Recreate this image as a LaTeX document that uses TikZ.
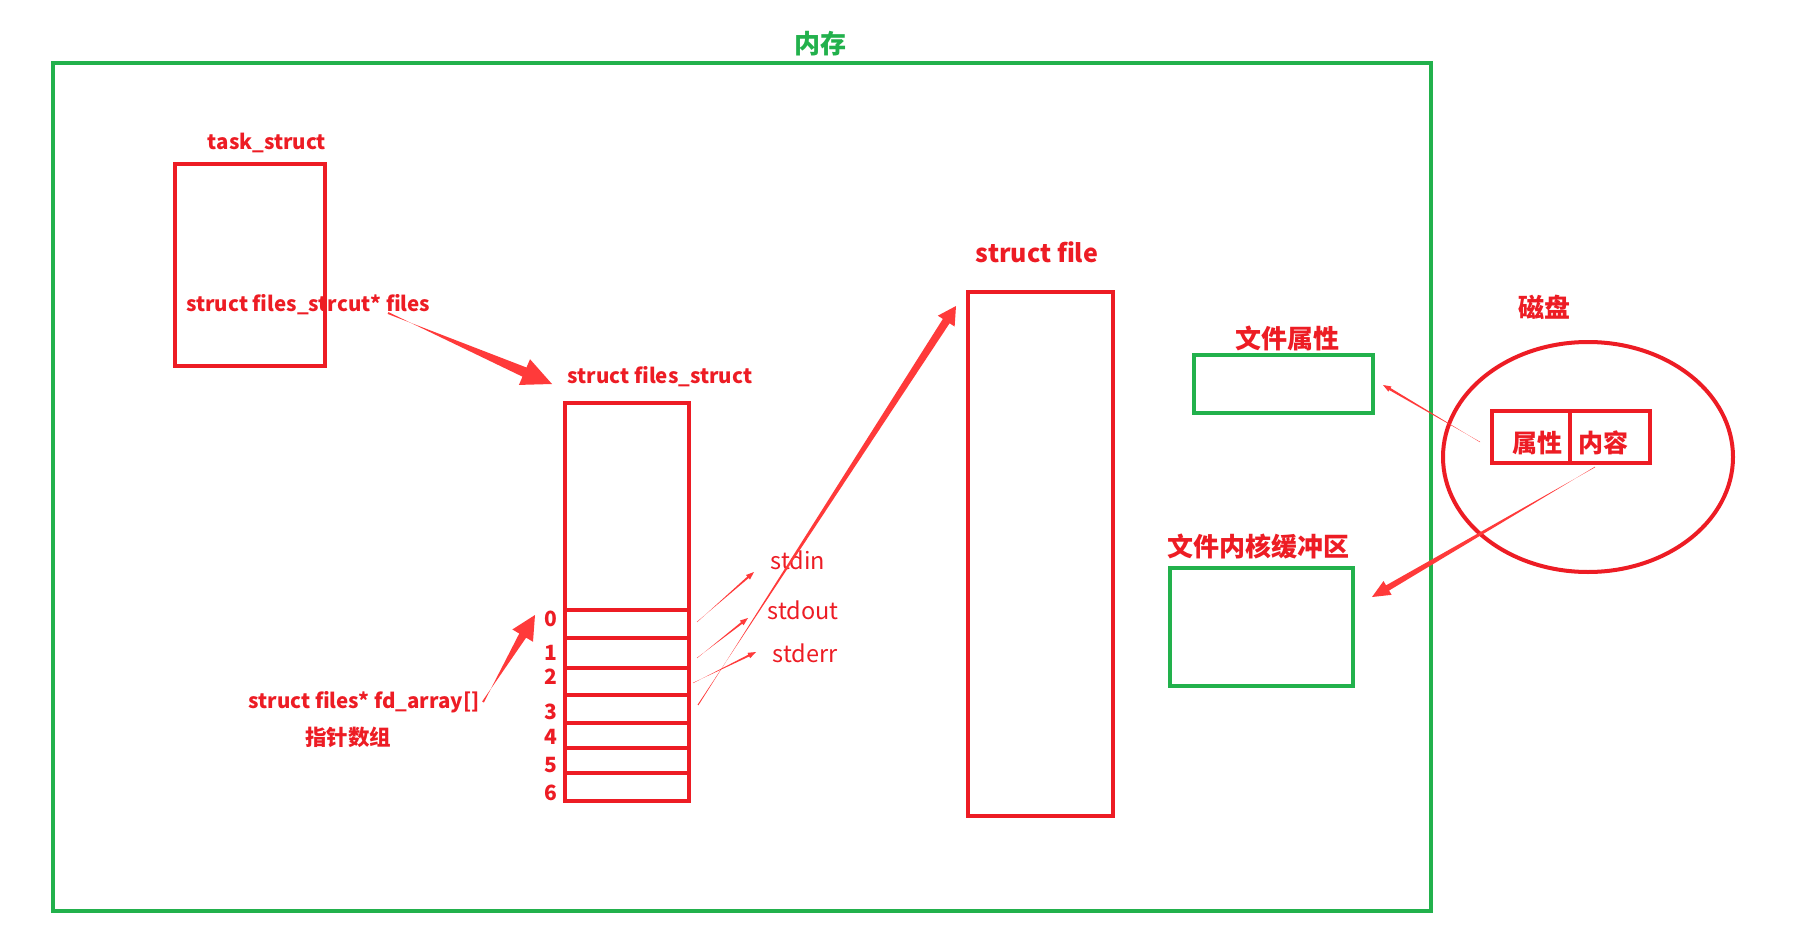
\documentclass[tikz,border=0pt]{standalone}
\usepackage{fontspec}
\setmainfont{Noto Sans CJK SC}
\usetikzlibrary{calc}
\definecolor{boxred}{RGB}{237,28,36}
\definecolor{arrred}{RGB}{255,58,58}
\definecolor{memgreen}{RGB}{34,177,76}
\newcommand{\taper}[6]{%
  \coordinate (hb) at ($(#2)!#6!(#1)$);
  \fill[arrred] ($(#1)!#3!90:(#2)$) -- ($(hb)!#4!-90:(#2)$) -- ($(hb)!#5!-90:(#2)$) -- (#2)
     -- ($(hb)!#5!90:(#2)$) -- ($(hb)!#4!90:(#2)$) -- ($(#1)!#3!-90:(#2)$) -- cycle;}
\begin{document}
\begin{tikzpicture}[x=1pt,y=-1pt,
  redbox/.style={draw=boxred,line width=4pt},
  greenbox/.style={draw=memgreen,line width=4pt},
  lbl/.style={text=boxred,font=\bfseries\fontsize{20.5}{24}\selectfont,inner sep=0pt},
  biglbl/.style={text=boxred,font=\bfseries\fontsize{26}{30}\selectfont,inner sep=0pt},
  stdlbl/.style={text=boxred,font=\fontsize{23.5}{27}\selectfont,inner sep=0pt},
  digit/.style={text=boxred,font=\bfseries\fontsize{21}{24}\selectfont,inner sep=0pt}]
\useasboundingbox[fill=white] (0,0) rectangle (1797,944);

% memory frame
\draw[greenbox] (53,63) rectangle (1431,911);
\node[text=memgreen,font=\bfseries\fontsize{26}{30}\selectfont,inner sep=0pt] (mem) at (820,44) {内存};

% task_struct
\draw[redbox] (175,164) rectangle (325,366);
\node[lbl] (tasklbl) at (267,143) {task\_struct};
\node[lbl,anchor=west] (fileslbl) at (186,305) {struct files\_strcut* files};

% files_struct
\node[lbl] (fslbl) at (660,377) {struct files\_struct};
\draw[redbox] (565,403) rectangle (689,801);
\foreach \yy in {610,638,668,695,723,748,773}{\draw[redbox] (565,\yy) -- (689,\yy);}
\foreach \d/\yy in {0/619,1/653,2/677,3/712,4/737,5/765,6/793}{\node[digit] (d\d) at (551,\yy) {\d};}

\node[lbl] (fdlbl) at (364,702) {struct files* fd\_array[]};
\node[lbl,font=\bfseries\fontsize{21.5}{25}\selectfont] (ptrlbl) at (348,737) {指针数组};

\node[stdlbl] (stdin) at (798,560) {stdin};
\node[stdlbl] (stdout) at (803,610) {stdout};
\node[stdlbl] (stderr) at (805,653) {stderr};

% struct file
\node[lbl,font=\bfseries\fontsize{25}{29}\selectfont] (sflbl) at (1037,252) {struct file};
\draw[redbox] (968,292) rectangle (1113,816);

% file attribute / buffer
\node[biglbl] (attrlbl) at (1287,338) {文件属性};
\draw[greenbox] (1194,355) rectangle (1373,413);
\node[biglbl] (buflbl) at (1258,546) {文件内核缓冲区};
\draw[greenbox] (1170,568) rectangle (1353,686);

% disk
\node[biglbl] (disklbl) at (1544,307) {磁盘};
\draw[draw=boxred,line width=4pt] (1588,457) ellipse [x radius=145,y radius=115];
\draw[redbox] (1492,411) rectangle (1570,463);
\draw[redbox] (1570,411) rectangle (1650,463);
\node[biglbl,font=\bfseries\fontsize{25}{29}\selectfont] (dattr) at (1537,443) {属性};
\node[biglbl,font=\bfseries\fontsize{25}{29}\selectfont] (dcont) at (1603,443) {内容};

% arrow end points
\coordinate (a1s) at (388,313); \coordinate (a1e) at (552,384);
\coordinate (a2s) at (483,702); \coordinate (a2e) at (535,615);
\coordinate (a3s) at (698,705); \coordinate (a3e) at (956,306);
\coordinate (a4s) at (1595,467); \coordinate (a4e) at (1372,597);
\coordinate (a5s) at (1480,442); \coordinate (a5e) at (1383,385);
\coordinate (s1s) at (697,622); \coordinate (s1e) at (754,572);
\coordinate (s2s) at (697,658); \coordinate (s2e) at (748,618);
\coordinate (s3s) at (693,683); \coordinate (s3e) at (756,652);

\taper{a1s}{a1e}{1pt}{5pt}{14pt}{30pt}
\taper{a2s}{a2e}{1pt}{4pt}{12pt}{24pt}
\taper{a3s}{a3e}{0.5pt}{4pt}{10pt}{18pt}
\taper{a4s}{a4e}{0.3pt}{3pt}{8pt}{18pt}
\taper{a5s}{a5e}{0.2pt}{1.2pt}{3pt}{8pt}
\taper{s1s}{s1e}{0.2pt}{1pt}{3pt}{8pt}
\taper{s2s}{s2e}{0.2pt}{1pt}{3pt}{8pt}
\taper{s3s}{s3e}{0.2pt}{1pt}{3pt}{8pt}
\end{tikzpicture}
\end{document}
